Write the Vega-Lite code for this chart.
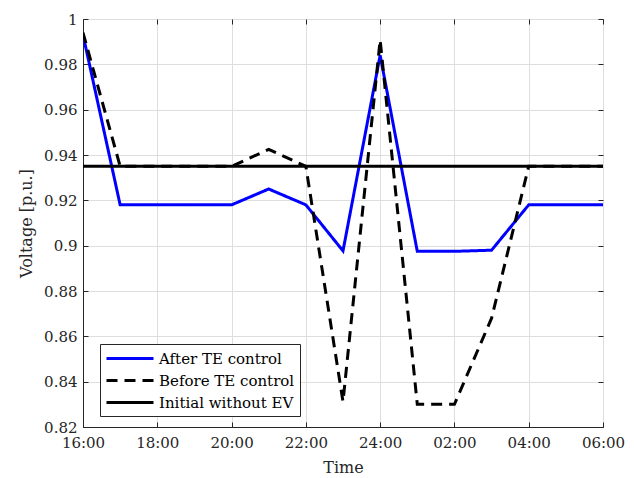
{
  "$schema": "https://vega.github.io/schema/vega-lite/v6.json",
  "width": 520,
  "height": 408,
  "autosize": {"type": "none"},
  "padding": {"left": 83, "top": 19, "right": 31, "bottom": 51},
  "background": "white",
  "config": {
    "font": "DejaVu Serif",
    "view": {"stroke": "#262626", "strokeWidth": 1},
    "axis": {
      "labelFont": "DejaVu Serif",
      "titleFont": "DejaVu Serif",
      "labelFontSize": 15,
      "titleFontSize": 16,
      "titleFontWeight": "normal",
      "labelColor": "#262626",
      "titleColor": "#262626",
      "domainColor": "#262626",
      "tickColor": "#262626",
      "gridColor": "#dedede",
      "gridOpacity": 1
    }
  },
  "data": {
    "values": [
      {"series": "After TE control", "t": 16, "v": 0.993},
      {"series": "After TE control", "t": 17, "v": 0.918},
      {"series": "After TE control", "t": 18, "v": 0.918},
      {"series": "After TE control", "t": 19, "v": 0.918},
      {"series": "After TE control", "t": 20, "v": 0.918},
      {"series": "After TE control", "t": 21, "v": 0.925},
      {"series": "After TE control", "t": 22, "v": 0.918},
      {"series": "After TE control", "t": 23, "v": 0.8977},
      {"series": "After TE control", "t": 24, "v": 0.984},
      {"series": "After TE control", "t": 25, "v": 0.8975},
      {"series": "After TE control", "t": 26, "v": 0.8975},
      {"series": "After TE control", "t": 27, "v": 0.898},
      {"series": "After TE control", "t": 28, "v": 0.918},
      {"series": "After TE control", "t": 29, "v": 0.918},
      {"series": "After TE control", "t": 30, "v": 0.918},
      {"series": "Before TE control", "t": 16, "v": 0.994},
      {"series": "Before TE control", "t": 17, "v": 0.935},
      {"series": "Before TE control", "t": 18, "v": 0.935},
      {"series": "Before TE control", "t": 19, "v": 0.935},
      {"series": "Before TE control", "t": 20, "v": 0.935},
      {"series": "Before TE control", "t": 21, "v": 0.9425},
      {"series": "Before TE control", "t": 22, "v": 0.935},
      {"series": "Before TE control", "t": 23, "v": 0.8312},
      {"series": "Before TE control", "t": 24, "v": 0.9908},
      {"series": "Before TE control", "t": 25, "v": 0.83},
      {"series": "Before TE control", "t": 26, "v": 0.83},
      {"series": "Before TE control", "t": 27, "v": 0.868},
      {"series": "Before TE control", "t": 28, "v": 0.935},
      {"series": "Before TE control", "t": 29, "v": 0.935},
      {"series": "Before TE control", "t": 30, "v": 0.935},
      {"series": "Initial without EV", "t": 16, "v": 0.935},
      {"series": "Initial without EV", "t": 30, "v": 0.935}
    ]
  },
  "encoding": {
    "color": {
      "field": "series", "type": "nominal",
      "scale": {
        "domain": ["After TE control", "Before TE control", "Initial without EV"],
        "range": ["#0000ff", "#000000", "#000000"]
      },
      "legend": {
        "title": null,
        "orient": "none",
        "legendX": 17,
        "legendY": 325,
        "fillColor": "white",
        "strokeColor": "#262626",
        "padding": 5,
        "labelFont": "DejaVu Serif",
        "labelFontSize": 15,
        "labelColor": "#000000",
        "symbolType": "M-1,0H4.875",
        "symbolSize": 256,
        "symbolStrokeWidth": 3,
        "rowPadding": 4,
        "labelOffset": 35,
        "cornerRadius": 0
      }
    },
    "strokeDash": {
      "field": "series", "type": "nominal",
      "scale": {
        "domain": ["After TE control", "Before TE control", "Initial without EV"],
        "range": [[1, 0], [11, 7], [1, 0]]
      },
      "legend": null
    },
    "order": {"field": "t", "type": "quantitative"}
  },
  "layer": [
    {
      "transform": [{"filter": "datum.series != 'Initial without EV'"}],
      "mark": {"type": "line", "strokeWidth": 3, "clip": true},
      "encoding": {
        "x": {
          "field": "t", "type": "quantitative",
          "scale": {"domain": [16, 30], "nice": false, "zero": false},
          "axis": {
            "title": "Time",
            "values": [16, 18, 20, 22, 24, 26, 28, 30],
            "labelExpr": "(datum.value <= 24 ? datum.value : '0' + (datum.value - 24)) + ':00'",
            "tickSize": -5,
            "labelPadding": 13,
            "titlePadding": 9,
            "domain": true,
            "grid": true,
            "labelFlush": false
          }
        },
        "y": {
          "field": "v", "type": "quantitative",
          "scale": {"domain": [0.82, 1], "nice": false, "zero": false},
          "axis": {
            "title": "Voltage [p.u.]",
            "values": [0.82, 0.84, 0.86, 0.88, 0.9, 0.92, 0.94, 0.96, 0.98, 1],
            "format": ".2~f",
            "tickSize": -5,
            "labelPadding": 11,
            "titlePadding": 9,
            "grid": true,
            "labelFlush": false
          }
        }
      }
    },
    {
      "transform": [{"filter": "datum.series == 'Initial without EV'"}],
      "mark": {"type": "line", "strokeWidth": 3, "clip": true},
      "encoding": {
        "x": {
          "field": "t", "type": "quantitative",
          "scale": {"domain": [16, 30], "nice": false, "zero": false},
          "axis": {
            "orient": "top",
            "title": null,
            "labels": false,
            "values": [16, 18, 20, 22, 24, 26, 28, 30],
            "tickSize": -5,
            "domain": false,
            "grid": false
          }
        },
        "y": {
          "field": "v", "type": "quantitative",
          "scale": {"domain": [0.82, 1], "nice": false, "zero": false},
          "axis": {
            "orient": "right",
            "title": null,
            "labels": false,
            "values": [0.82, 0.84, 0.86, 0.88, 0.9, 0.92, 0.94, 0.96, 0.98, 1],
            "tickSize": -5,
            "domain": false,
            "grid": false
          }
        }
      }
    }
  ],
  "resolve": {"axis": {"x": "independent", "y": "independent"}}
}
